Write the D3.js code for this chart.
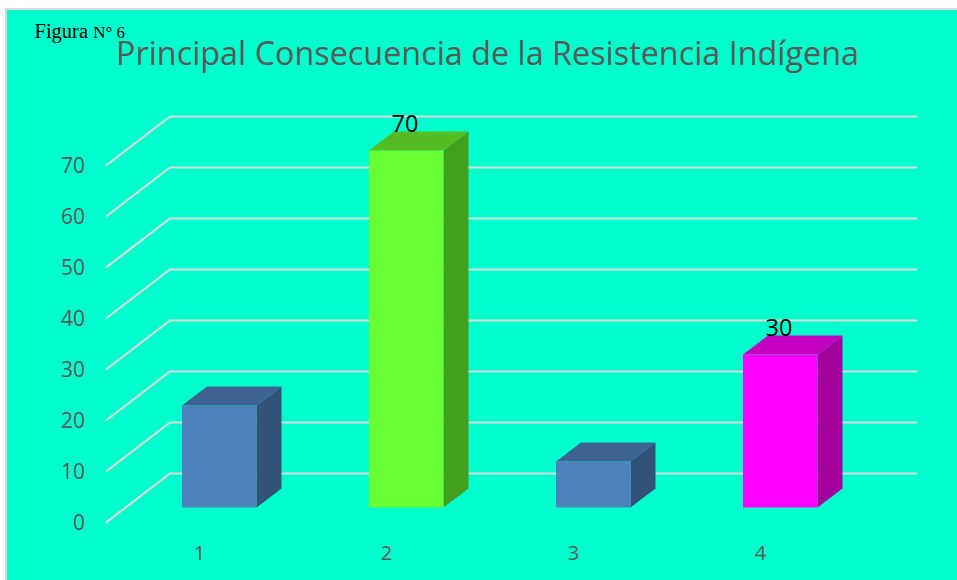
<!DOCTYPE html>
<html><head><meta charset="utf-8">
<script src="https://cdn.jsdelivr.net/npm/d3@7"></script>
<style>html,body{margin:0;padding:0;background:#fff}svg{display:block}</style>
</head><body><div id="c"></div>
<script>
const categories = ["1","2","3","4"];
const values = [20,70,9,30];
const labels = ["","70","","30"];
const frontColors = ["#4f81bd","#66ff33","#4f81bd","#ff00ff"];
const topColors = ["#3f6390","#55bb22","#3f6390","#c400c0"];
const sideColors = ["#335278","#42a01e","#335278","#a4009c"];
const yTicks = [0,10,20,30,40,50,60,70];
const titleText = "Principal Consecuencia de la Resistencia Indígena";

const W=957,H=580;
const svg=d3.select("#c").append("svg").attr("width",W).attr("height",H);
svg.append("rect").attr("x",6).attr("y",9).attr("width",W).attr("height",H)
  .attr("fill","#00ffcc").attr("stroke","#d9d9d9").attr("stroke-width",2);

const y=d3.scaleLinear().domain([0,70]).range([473.5,116.5]);
const dx=64, dy=49;
const gridColor="#d9d9d9";
const backX0=170, backX1=917;
const grid=svg.append("g");
grid.selectAll("path").data(yTicks).join("path")
  .attr("d",d=>`M${backX0-dx},${y(d)+dy}L${backX0},${y(d)}L${backX1},${y(d)}`)
  .attr("fill","none").attr("stroke",gridColor).attr("stroke-width",2.2);
svg.append("g").selectAll("text").data(yTicks).join("text")
  .attr("x",85).attr("y",d=>y(d)+dy).attr("dy","0.35em").attr("text-anchor","end")
  .attr("font-family","'Open Sans'").attr("font-size",21).attr("fill","#595959").text(d=>d);

const yBar=d3.scaleLinear().domain([0,70]).range([507.5,150.5]);
const bw=74.5, ox=25, oy=19;
const xPos=d3.scalePoint().domain(categories).range([182,743]);
const bars=svg.append("g").selectAll("g").data(categories.map((c,i)=>({c,v:values[i],l:labels[i],i}))).join("g");
bars.append("path").attr("fill",d=>sideColors[d.i])
  .attr("d",d=>{const a=xPos(d.c)+bw,t=yBar(d.v),b=yBar(0);return `M${a},${t}l${ox},${-oy}L${a+ox},${b-oy}L${a},${b}Z`;});
bars.append("path").attr("fill",d=>topColors[d.i])
  .attr("d",d=>{const a=xPos(d.c),t=yBar(d.v);return `M${a},${t}l${ox},${-oy}h${bw}l${-ox},${oy}Z`;});
bars.append("rect").attr("fill",d=>frontColors[d.i])
  .attr("x",d=>xPos(d.c)).attr("y",d=>yBar(d.v)).attr("width",bw)
  .attr("height",d=>yBar(0)-yBar(d.v));
bars.append("text").attr("x",d=>xPos(d.c)+17.5).attr("y",560).attr("text-anchor","middle")
  .attr("font-family","'Open Sans'").attr("font-size",20).attr("fill","#595959").text(d=>d.c);
bars.append("text")
  .attr("x",d=>xPos(d.c)+36).attr("y",d=>yBar(d.v)-19).attr("text-anchor","middle")
  .attr("font-family","'Open Sans'").attr("font-size",23.5).attr("fill","#000").text(d=>d.l);

svg.append("text").attr("x",116).attr("y",65).attr("font-family","'Open Sans'")
  .attr("font-size",32).attr("fill","#595959").attr("textLength",743).attr("lengthAdjust","spacingAndGlyphs").text(titleText);
const fig=svg.append("text").attr("x",34.5).attr("y",38).attr("font-family","'Liberation Serif'").attr("fill","#000");
fig.append("tspan").attr("font-size",20.5).text("Figura ");
fig.append("tspan").attr("font-size",17).text("N° 6");
</script></body></html>
